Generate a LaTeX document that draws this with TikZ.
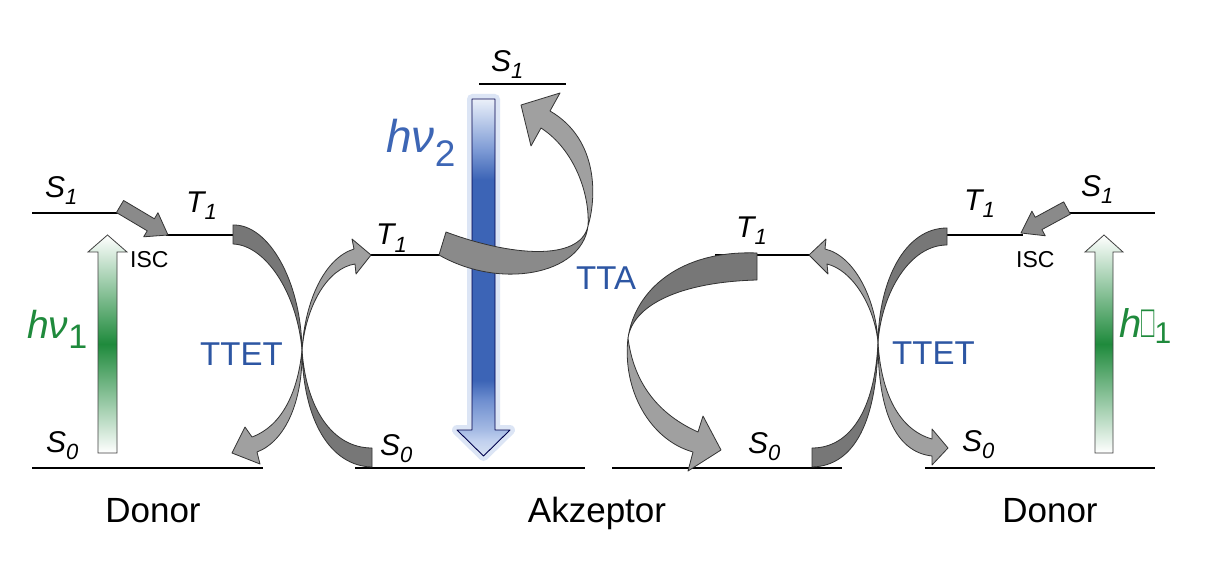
\documentclass[tikz,border=0pt]{standalone}
\usepackage{fontspec}
\setmainfont{Liberation Sans}
\usepackage{graphicx}
\usetikzlibrary{calc}
\definecolor{tgreen}{HTML}{1F8A3C}
\definecolor{tblue}{HTML}{2D56A3}
\definecolor{nublue}{HTML}{3D66B5}
\definecolor{rdark}{HTML}{777777}
\definecolor{rmid}{HTML}{8A8A8A}
\definecolor{rlight}{HTML}{A0A0A0}
\definecolor{redge}{HTML}{333333}
\definecolor{bzero}{HTML}{D8E2F3}
\definecolor{bone}{HTML}{C0D0EE}
\definecolor{btwo}{HTML}{A6BBE4}
\definecolor{bthree}{HTML}{6F8FD0}
\definecolor{bfour}{HTML}{3C64B6}
\definecolor{bfive}{HTML}{7E9BD5}
\definecolor{bsix}{HTML}{D3DEF2}
\definecolor{bseven}{HTML}{EBF0F9}
\pgfdeclareverticalshading{bluebeam}{100bp}{color(0bp)=(bzero); color(25bp)=(bzero); color(27.2bp)=(bone); color(28.6bp)=(btwo); color(32.8bp)=(bthree); color(35.6bp)=(bfour); color(63.7bp)=(bfour); color(67.9bp)=(bfive); color(73.5bp)=(bsix); color(75bp)=(bseven); color(100bp)=(bseven)}
\newcommand\lv[2]{#1\raisebox{-7pt}{\fontsize{22}{22}\selectfont #2}}
\tikzset{
  level/.style={line width=2.6pt, black},
  lbl/.style={font=\fontsize{30}{32}\selectfont\itshape, inner sep=0pt, anchor=base west},
  word/.style={font=\fontsize{35}{38}\selectfont, inner sep=0pt, anchor=base},
  blu/.style={font=\fontsize{33}{36}\selectfont, text=tblue, inner sep=0pt, anchor=base west},
  isc/.style={font=\fontsize{23}{24}\selectfont, inner sep=0pt, anchor=base west},
  rdk/.style={fill=rdark, draw=redge, line width=0.8pt, line join=round},
  rmd/.style={fill=rmid, draw=redge, line width=0.8pt, line join=round},
  rlt/.style={fill=rlight, draw=redge, line width=0.8pt, line join=round},
  photon/.style={draw=black!75, line width=0.8pt, top color=white, bottom color=white, middle color=tgreen},
}
\newcommand\blockarrow[2]{%
  \path[rmd] ($(#1)!7pt!90:(#2)$) -- ($($(#2)!20pt!(#1)$)!7pt!90:(#2)$)
   -- ($($(#2)!20pt!(#1)$)!14pt!90:(#2)$) -- (#2)
   -- ($($(#2)!20pt!(#1)$)!14pt!-90:(#2)$) -- ($($(#2)!20pt!(#1)$)!7pt!-90:(#2)$)
   -- ($(#1)!7pt!-90:(#2)$) -- cycle;}
\begin{document}
\begin{tikzpicture}[x=1pt,y=-1pt]
\useasboundingbox[fill=white] (0,0) rectangle (1205,572);
% ---------- levels ----------
\draw[level] (32,213) -- (118,213);   % donor S1 left
\draw[level] (166,235) -- (234,235);  % donor T1 left
\draw[level] (32,468) -- (263,468);   % donor S0 left
\draw[level] (479,84) -- (566,84);    % acceptor S1
\draw[level] (369,255) -- (440,255);  % acceptor T1 left
\draw[level] (355,468) -- (585,468);  % acceptor S0 left
\draw[level] (715,255) -- (811,255);  % acceptor T1 right
\draw[level] (612,468) -- (842,468);  % acceptor S0 right
\draw[level] (945,235) -- (1023,235); % donor T1 right
\draw[level] (1068,213) -- (1155,213);% donor S1 right
\draw[level] (925,468) -- (1155,468); % donor S0 right
% ---------- excitation photons ----------
\path[photon] (98,453) -- (98,252) -- (88,252) -- (107.5,235) -- (127,252) -- (117,252) -- (117,453) -- cycle;
\path[photon] (1095,453) -- (1095,252) -- (1085,252) -- (1104,235) -- (1123,252) -- (1113,252) -- (1113,453) -- cycle;
% ---------- emission (blue) ----------
\draw[line width=10pt, color=bone, opacity=0.55, line join=round] (472,99) -- (495,99) -- (495,430) -- (510,430) -- (483.5,456) -- (457,430) -- (472,430) -- cycle;
\shade[shading=bluebeam, draw=black!70!blue, line width=0.9pt, line join=round] (472,99) -- (495,99) -- (495,430) -- (510,430) -- (483.5,456) -- (457,430) -- (472,430) -- cycle;
% ---------- ISC arrows ----------
\coordinate (iscLa) at (120,206.5);
\coordinate (iscLb) at (168,235);
\coordinate (iscRa) at (1067,208);
\coordinate (iscRb) at (1021,233);
\blockarrow{iscLa}{iscLb}
\blockarrow{iscRa}{iscRb}
% ---------- TTET left (crossing at 302,350) ----------
\coordinate (XL) at (302,350);
\path[rdk] (233,225) .. controls (268,224) and (301,280) .. (XL) .. controls (297,292) and (265,245) .. (233,244) -- cycle;
\path[rlt] (XL) .. controls (298,392) and (282,426) .. (252,437) -- (245,427) -- (232,453) -- (260,464) -- (257,452) .. controls (286,441) and (303,400) .. (XL) -- cycle;
\path[rdk] (372,467) .. controls (330,466) and (303,420) .. (XL) .. controls (306,408) and (332,448) .. (372,448) -- cycle;
\path[rlt] (XL) .. controls (305,300) and (325,258) .. (354,249) -- (352,239) -- (371,255) -- (356,274) -- (355,264) .. controls (328,268) and (306,305) .. (XL) -- cycle;
% ---------- TTET right (crossing at 878,342) ----------
\coordinate (XR) at (878,342);
\path[rdk] (812,467) .. controls (855,466) and (877,420) .. (XR) .. controls (875,410) and (850,448) .. (812,448) -- cycle;
\path[rlt] (XR) .. controls (876,300) and (855,256) .. (825,249) -- (826,239) -- (809,255) -- (828,274) -- (827,264) .. controls (852,270) and (874,305) .. (XR) -- cycle;
\path[rdk] (947,228) .. controls (905,228) and (879,280) .. (XR) .. controls (882,292) and (910,245) .. (947,245) -- cycle;
\path[rlt] (XR) .. controls (881,395) and (900,430) .. (932,439) -- (932,429) -- (948,448) -- (932,465) -- (932,456) .. controls (895,452) and (878,410) .. (XR) -- cycle;
% ---------- TTA left (up to S1) ----------
\coordinate (NL) at (588,226);
\path[rmd] (446,232) .. controls (510,256) and (580,262) .. (NL) .. controls (582,275) and (500,290) .. (439,255) -- cycle;
\path[rlt] (NL) .. controls (596,200) and (600,140) .. (550,111) -- (560,93) -- (521,105) -- (531,146) -- (541,128) .. controls (575,150) and (590,195) .. (NL) -- cycle;
% ---------- TTA right (down to S0) ----------
\coordinate (NR) at (628,338);
\path[rdk] (757,253) .. controls (680,250) and (635,290) .. (NR) .. controls (633,305) and (680,282) .. (757,280) -- cycle;
\path[rlt] (NR) .. controls (622,390) and (650,440) .. (693,452) -- (688,471) -- (721,450) -- (703,416) -- (698,432) .. controls (660,415) and (634,385) .. (NR) -- cycle;
% ---------- labels ----------
\node[lbl] (dS1l) at (45,198) {\lv{S}{1}};
\node[lbl] (dT1l) at (186,213) {\lv{T}{1}};
\node[lbl] (dS0l) at (46,452) {\lv{S}{0}};
\node[lbl] (aS1) at (491,72) {\lv{S}{1}};
\node[lbl] (aT1l) at (376,245) {\lv{T}{1}};
\node[lbl] (aS0l) at (380,455) {\lv{S}{0}};
\node[lbl] (aT1r) at (736,238) {\lv{T}{1}};
\node[lbl] (aS0r) at (748,453) {\lv{S}{0}};
\node[lbl] (dT1r) at (964,211) {\lv{T}{1}};
\node[lbl] (dS1r) at (1081,197) {\lv{S}{1}};
\node[lbl] (dS0r) at (962,451) {\lv{S}{0}};
\node[isc] (iscl) at (130,268) {ISC};
\node[isc] (iscr) at (1016,268) {ISC};
\node[blu] (ttetl) at (200,365) {TTET};
\node[blu] (ttetr) at (892,364) {TTET};
\node[blu] (tta) at (576,290) {TTA};
\node[inner sep=0pt, anchor=base west, text=tgreen, font=\fontsize{39}{40}\selectfont] (hv1l) at (27,338) {\textit{hν}\raisebox{-10pt}{\fontsize{34}{34}\selectfont 1}};
\node[inner sep=0pt, anchor=base west, text=nublue, font=\fontsize{46}{48}\selectfont] (hv2) at (386,153) {\textit{hν}\raisebox{-14pt}{\fontsize{37}{37}\selectfont 2}};
\node[inner sep=0pt, anchor=base west, text=tgreen, font=\fontsize{40}{42}\selectfont] (hv1r) at (1119,337) {\textit{h}\scalebox{0.55}[1.15]{□}\raisebox{-6pt}{\fontsize{30}{30}\selectfont 1}};
\node[word] (donl) at (153,522) {Donor};
\node[word] (akz) at (597,522) {Akzeptor};
\node[word] (donr) at (1050,522) {Donor};
\end{tikzpicture}
\end{document}
